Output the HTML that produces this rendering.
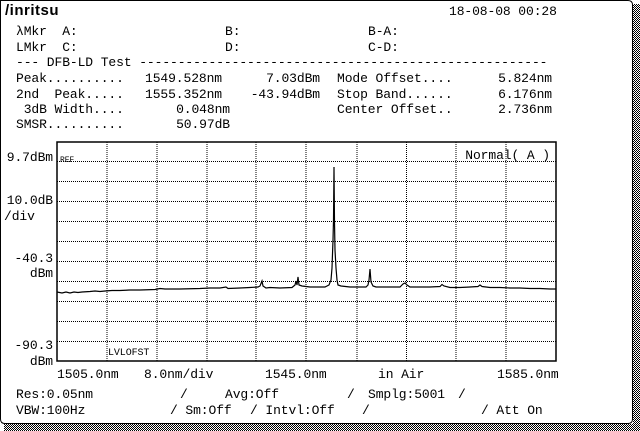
<!DOCTYPE html>
<html><head><meta charset="utf-8"><style>
body{margin:0;width:640px;height:431px;background:#fff;overflow:hidden;position:relative;font-family:"Liberation Mono","DejaVu Sans Mono",monospace;}
.t{position:absolute;font-size:13px;line-height:13px;color:#000;white-space:pre;letter-spacing:-0.1px}
.r{text-align:right}
</style></head><body>
<svg width="640" height="431" style="position:absolute;left:0;top:0">
<defs><pattern id="d" width="2" height="2" patternUnits="userSpaceOnUse"><rect width="1" height="1" fill="#000"/><rect x="1" y="1" width="1" height="1" fill="#000"/></pattern></defs>
<rect x="633" y="4" width="7" height="427" fill="url(#d)"/>
<rect x="4" y="424" width="636" height="7" fill="url(#d)"/>
<path d="M0.5,0.5 H628 Q632.5,0.5 632.5,5 V419 Q632.5,423.5 628,423.5 H5 Q0.5,423.5 0.5,419 Z" fill="#fff" stroke="#000"/>
<g stroke="#000" stroke-width="1" stroke-dasharray="1,1">
<line x1="107" y1="142" x2="107" y2="361"/><line x1="157" y1="142" x2="157" y2="361"/><line x1="207" y1="142" x2="207" y2="361"/><line x1="256" y1="142" x2="256" y2="361"/><line x1="306" y1="142" x2="306" y2="361"/><line x1="357" y1="142" x2="357" y2="361"/><line x1="406.5" y1="142" x2="406.5" y2="361"/><line x1="456" y1="142" x2="456" y2="361"/><line x1="506" y1="142" x2="506" y2="361"/>
<line x1="57" y1="161.5" x2="556" y2="161.5"/><line x1="57" y1="181.5" x2="556" y2="181.5"/><line x1="57" y1="201.5" x2="556" y2="201.5"/><line x1="57" y1="221.5" x2="556" y2="221.5"/><line x1="57" y1="241.5" x2="556" y2="241.5"/><line x1="57" y1="261.5" x2="556" y2="261.5"/><line x1="57" y1="281.5" x2="556" y2="281.5"/><line x1="57" y1="301.5" x2="556" y2="301.5"/><line x1="57" y1="321.5" x2="556" y2="321.5"/><line x1="57" y1="341.5" x2="556" y2="341.5"/>
</g>
<rect x="57" y="142" width="499" height="219" fill="none" stroke="#000" stroke-width="1.5"/>
<polyline fill="none" stroke="#000" stroke-width="1.2" points="57,292 62,293 66,292 70,293 74,292 78,292.5 82,292 90,291.5 95,291 100,291.5 105,291 112,290.5 120,290.5 130,290 140,290 155,289.5 160,288.5 165,289 180,289 200,288.5 210,288 220,288 226,287 228,288.5 240,288 250,287.5 258,287 260,286 262,281 263,286 266,288 270,287.5 280,288 292,287.5 295,285 296,281 297,285 298,277 299,285 302,286 310,287 325,287 329,285 331,280 332,268 333,240 333.5,220 334,167 334.5,222 335,250 336,268 337,280 338,285 341,286 350,287 360,287 366,287 368,285 369,280 370,269 371,282 373,286 376,287 380,287 390,287 400,287 403,284 405,283 407,285 410,287 420,287 430,287 440,286.5 442,284.5 444,286 450,287.5 460,287.5 470,287 478,286.5 480,285 482,286.5 490,287.5 500,287.5 510,288 520,288 530,288.5 540,288.5 550,289 556,289"/>
</svg>
<div class="t" style="left:5px;top:4px;font-weight:bold;font-size:15px;font-family:'Liberation Sans',sans-serif;letter-spacing:0.5px">/inritsu</div>
<div class="t" style="left:449px;top:5px">18-08-08 00:28</div>
<div class="t" style="left:16px;top:25px">λMkr  A:</div>
<div class="t" style="left:225px;top:25px">B:</div>
<div class="t" style="left:368px;top:25px">B-A:</div>
<div class="t" style="left:16px;top:41px">LMkr  C:</div>
<div class="t" style="left:225px;top:41px">D:</div>
<div class="t" style="left:368px;top:41px">C-D:</div>
<div class="t" style="left:16px;top:56px">--- DFB-LD Test -----------------------------------------------------</div>
<div class="t" style="left:16px;top:72px">Peak..........</div>
<div class="t" style="left:145px;top:72px">1549.528nm</div>
<div class="t r" style="left:220px;width:100px;top:72px">7.03dBm</div>
<div class="t" style="left:337px;top:72px">Mode Offset....</div>
<div class="t r" style="left:452px;width:100px;top:72px">5.824nm</div>
<div class="t" style="left:16px;top:88px">2nd  Peak.....</div>
<div class="t" style="left:145px;top:88px">1555.352nm</div>
<div class="t r" style="left:220px;width:100px;top:88px">-43.94dBm</div>
<div class="t" style="left:337px;top:88px">Stop Band......</div>
<div class="t r" style="left:452px;width:100px;top:88px">6.176nm</div>
<div class="t" style="left:16px;top:103px"> 3dB Width....</div>
<div class="t r" style="left:130px;width:100px;top:103px">0.048nm</div>
<div class="t" style="left:337px;top:103px">Center Offset..</div>
<div class="t r" style="left:452px;width:100px;top:103px">2.736nm</div>
<div class="t" style="left:16px;top:118px">SMSR..........</div>
<div class="t r" style="left:130px;width:100px;top:118px">50.97dB</div>
<div class="t r" style="left:0px;width:53px;top:151px">9.7dBm</div>
<div class="t" style="left:60px;top:157px;font-size:8px;line-height:8px">REF</div>
<div class="t r" style="left:400px;width:150px;top:149px">Normal( A )</div>
<div class="t r" style="left:0px;width:53px;top:194px">10.0dB</div>
<div class="t" style="left:4px;top:210px">/div</div>
<div class="t r" style="left:0px;width:53px;top:252px">-40.3</div>
<div class="t r" style="left:0px;width:53px;top:267px">dBm</div>
<div class="t r" style="left:0px;width:53px;top:339px">-90.3</div>
<div class="t r" style="left:0px;width:53px;top:355px">dBm</div>
<div class="t" style="left:108px;top:349px;font-size:10px;line-height:10px">LVLOFST</div>
<div class="t" style="left:57px;top:368px">1505.0nm</div>
<div class="t" style="left:144px;top:368px">8.0nm/div</div>
<div class="t" style="left:265px;top:368px">1545.0nm</div>
<div class="t" style="left:378px;top:368px">in Air</div>
<div class="t" style="left:497px;top:368px">1585.0nm</div>
<div class="t" style="left:16px;top:388px">Res:0.05nm</div>
<div class="t" style="left:180px;top:388px">/</div>
<div class="t" style="left:225px;top:388px">Avg:Off</div>
<div class="t" style="left:347px;top:388px">/</div>
<div class="t" style="left:368px;top:388px">Smplg:5001</div>
<div class="t" style="left:458px;top:388px">/</div>
<div class="t" style="left:16px;top:404px">VBW:100Hz</div>
<div class="t" style="left:170px;top:404px">/ Sm:Off</div>
<div class="t" style="left:250px;top:404px">/ Intvl:Off</div>
<div class="t" style="left:362px;top:404px">/</div>
<div class="t" style="left:481px;top:404px">/ Att On</div>
</body></html>
